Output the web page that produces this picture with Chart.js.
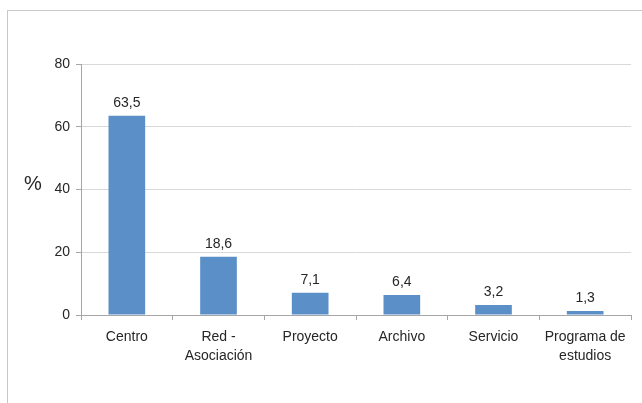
<!DOCTYPE html>
<html>
<head>
<meta charset="utf-8">
<script src="https://cdn.jsdelivr.net/npm/chart.js@4/dist/chart.umd.min.js"></script>
<style>
  html, body { margin: 0; padding: 0; background: #fff; overflow: hidden; }
  #wrap { position: relative; width: 642px; height: 403px; }
  #frame { position: absolute; left: 7px; top: 10px; width: 700px; height: 500px;
           border-left: 1px solid #c8c8c8; border-top: 1px solid #c8c8c8; }
  canvas { position: absolute; left: 0; top: 0; }
</style>
</head>
<body>
<div id="wrap">
  <div id="frame"></div>
  <canvas id="myChart" width="642" height="403"></canvas>
</div>
<script>
var categorias = [['Centro'], ['Red -', 'Asociación'], ['Proyecto'], ['Archivo'], ['Servicio'], ['Programa de', 'estudios']];
var valores = [63.5, 18.6, 7.1, 6.4, 3.2, 1.3];
var ticksY = [0, 20, 40, 60, 80];

var fuente = "'Liberation Sans', Arial, sans-serif";

var etiquetas = {
    id: 'etiquetas',
    afterDatasetsDraw: function (chart) {
        var ctx = chart.ctx;
        var meta = chart.getDatasetMeta(0);
        ctx.save();
        ctx.fillStyle = '#262626';
        ctx.font = '14px ' + fuente;
        ctx.textAlign = 'center';
        ctx.textBaseline = 'bottom';
        for (var i = 0; i < meta.data.length; i++) {
            var bar = meta.data[i];
            ctx.fillText(String(valores[i]).replace('.', ','), bar.x, bar.y - 6);
        }
        // titulo del eje, sin rotar
        ctx.font = '20px ' + fuente;
        ctx.textAlign = 'center';
        ctx.textBaseline = 'middle';
        var area = chart.chartArea;
        ctx.fillText('%', area.left - 48, (area.top + area.bottom) / 2 - 5);
        ctx.restore();
    }
};

var ctx = document.getElementById('myChart').getContext('2d');
var myChart = new Chart(ctx, {
    type: 'bar',
    data: {
        labels: categorias,
        datasets: [{
            data: valores,
            backgroundColor: '#5b8fc8',
            borderWidth: 0,
            barPercentage: 0.4,
            categoryPercentage: 1
        }]
    },
    options: {
        responsive: false,
        animation: false,
        layout: { padding: { top: 64, right: 11, left: 0, bottom: 0 } },
        plugins: {
            legend: { display: false },
            tooltip: { enabled: false }
        },
        scales: {
            x: {
                afterFit: function (scale) { scale.height = 88; },
                grid: {
                    offset: true,
                    drawOnChartArea: false,
                    drawTicks: true,
                    tickLength: 5,
                    tickColor: '#a6a6a6'
                },
                border: { color: '#a6a6a6', width: 1 },
                ticks: {
                    color: '#262626',
                    font: { family: fuente, size: 14, lineHeight: 1.35 },
                    padding: 8,
                    maxRotation: 0,
                    autoSkip: false
                }
            },
            y: {
                min: 0,
                max: 80,
                afterFit: function (scale) { scale.width = 81; },
                afterBuildTicks: function (scale) {
                    scale.ticks = ticksY.map(function (v) { return { value: v }; });
                },
                grid: {
                    color: '#d9d9d9',
                    tickColor: '#a6a6a6',
                    tickLength: 5
                },
                border: { color: '#a6a6a6', width: 1 },
                ticks: {
                    color: '#262626',
                    font: { family: fuente, size: 14 },
                    padding: 6
                }
            }
        }
    },
    plugins: [etiquetas]
});
</script>
</body>
</html>
